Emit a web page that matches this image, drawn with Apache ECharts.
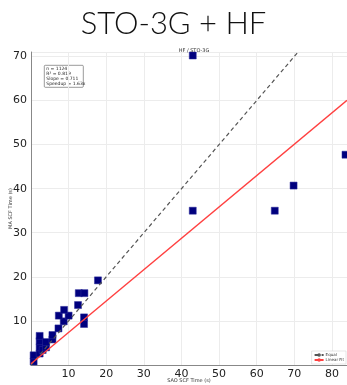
<!DOCTYPE html>
<html>
<head>
<meta charset="utf-8">
<script src="https://cdn.jsdelivr.net/npm/echarts@6/dist/echarts.min.js"></script>
<style>
  html, body { margin: 0; padding: 0; background: #fff; }
  #main { width: 347px; height: 385px; }
</style>
</head>
<body>
<div id="main"></div>
<script>
// SAO vs MA SCF times (seconds)
var saoTimes = [0.7, 0.7, 2.3, 2.3, 2.3, 2.3, 3.1, 4.0, 4.0, 5.7, 5.7, 7.3, 8.7, 7.4, 10.0, 8.8,
                14.1, 14.1, 12.5, 12.7, 14.2, 17.8, 43.0, 43.0, 64.8, 69.8, 83.6];
var maTimes  = [0.8, 2.2, 2.6, 4.0, 5.4, 6.6, 3.4, 4.0, 5.2, 5.8, 6.8, 8.3, 9.9, 11.2, 11.2, 12.5,
                10.8, 9.3, 13.6, 16.3, 16.3, 19.2, 70.2, 35.0, 35.0, 40.7, 47.7];
var statLines = ['n = 1124', 'R\u00b2 = 0.819', 'Slope = 0.711', 'Speedup = 1.63x'];
var fitSlope = 0.711;
var fitIntercept = 0.3;
var xMax = 84;
var yMax = 71;

var points = saoTimes.map(function (x, i) { return [x, maTimes[i]]; });

var chart = echarts.init(document.getElementById('main'));

function tickFmt(v) {
  if (v === 0 || v % 10 !== 0) return '';
  return String(v);
}

chart.setOption({
  animation: false,
  title: [
    {
      text: 'STO-3G + HF',
      left: 'center',
      top: 3,
      textStyle: { fontFamily: 'Lato', fontSize: 31, fontWeight: 300, color: '#111' }
    },
    {
      text: 'HF / STO-3G',
      left: 189,
      top: 43,
      textAlign: 'center',
      textStyle: { fontFamily: 'DejaVu Sans', fontSize: 5, fontWeight: 'normal', color: '#333' }
    }
  ],
  grid: { left: 31, right: 0, top: 52, bottom: 20, outerBoundsMode: 'none', containLabel: false },
  xAxis: {
    type: 'value',
    min: 0, max: xMax, interval: 10,
    name: 'SAO SCF Time (s)',
    nameLocation: 'middle',
    nameGap: 13,
    nameMoveOverlap: false,
    nameTextStyle: { fontFamily: 'DejaVu Sans', fontSize: 5, color: '#333' },
    axisLine: { lineStyle: { color: '#888', width: 1 } },
    axisTick: { show: false },
    axisLabel: { formatter: tickFmt, fontFamily: 'DejaVu Sans', fontSize: 11, color: '#222', margin: 4 },
    splitLine: { lineStyle: { color: '#ececec', width: 1 } }
  },
  yAxis: {
    type: 'value',
    min: 0, max: yMax, interval: 10,
    name: 'MA SCF Time (s)',
    nameLocation: 'middle',
    nameGap: 18,
    nameMoveOverlap: false,
    nameTextStyle: { fontFamily: 'DejaVu Sans', fontSize: 5, color: '#333' },
    axisLine: { show: true, lineStyle: { color: '#888', width: 1 } },
    axisTick: { show: false },
    axisLabel: { formatter: tickFmt, fontFamily: 'DejaVu Sans', fontSize: 11, color: '#222', margin: 4 },
    splitLine: { lineStyle: { color: '#ececec', width: 1 } }
  },
  legend: {
    orient: 'vertical',
    right: 1,
    bottom: 21,
    itemWidth: 9,
    itemHeight: 2,
    itemGap: 1,
    padding: [2, 2, 2, 2],
    borderColor: '#ccc',
    borderWidth: 0.5,
    backgroundColor: '#fff',
    textStyle: { fontFamily: 'DejaVu Sans', fontSize: 4, color: '#333', padding: [0, 0, 0, -3] },
    data: ['Equal', 'Linear Fit']
  },
  series: [
    {
      type: 'scatter',
      name: 'SCF',
      symbol: 'rect',
      symbolSize: 7,
      itemStyle: { color: '#00007e', borderColor: '#2a2a9a', borderWidth: 0.5, opacity: 1 },
      data: points,
      z: 2
    },
    {
      type: 'line',
      name: 'Equal',
      showSymbol: false,
      lineStyle: { color: '#555', width: 1.2, type: [4, 3] },
      itemStyle: { color: '#555' },
      data: [[0, 0], [yMax, yMax]],
      z: 3
    },
    {
      type: 'line',
      name: 'Linear Fit',
      showSymbol: false,
      lineStyle: { color: '#ff4040', width: 1.4 },
      itemStyle: { color: '#ff4040' },
      data: [[0, fitIntercept], [xMax, fitIntercept + fitSlope * xMax]],
      z: 4
    }
  ],
  graphic: [
    {
      type: 'group',
      left: 44,
      top: 65,
      children: [
        {
          type: 'rect',
          shape: { x: 0, y: 0, width: 39, height: 22, r: 1 },
          style: { fill: '#fff', stroke: '#555', lineWidth: 0.6 }
        },
        {
          type: 'text',
          x: 2,
          y: 1.5,
          style: {
            text: statLines.join('\n'),
            fontFamily: 'DejaVu Sans',
            fontSize: 4.5,
            lineHeight: 4.8,
            fill: '#222'
          }
        }
      ]
    }
  ]
});
</script>
</body>
</html>
